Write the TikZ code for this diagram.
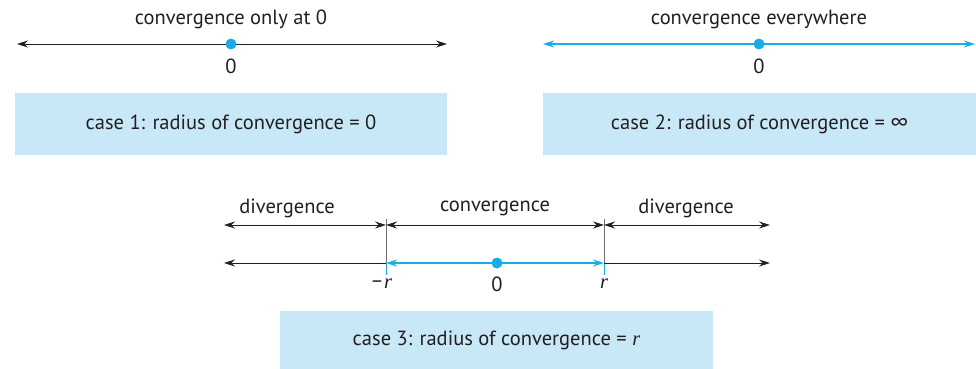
\documentclass[tikz,border=0pt]{standalone}
\usepackage{fontspec}
\setmainfont{PT Sans}
\newfontfamily\rfont{Liberation Serif}
\usetikzlibrary{arrows.meta}
\definecolor{cblue}{HTML}{1AACE6}
\definecolor{cbox}{HTML}{C8E8F8}
\definecolor{ink}{HTML}{231F20}
\definecolor{tick}{HTML}{6D6E71}
\newcommand{\rr}{{\rfont\itshape r}}
\tikzset{
  lbl/.style={font=\fontsize{20.5}{24}\selectfont, text=ink, inner sep=0pt},
  casebox/.style={fill=cbox, draw=none, inner sep=0pt, font=\fontsize{20.5}{24}\selectfont, text=ink},
  axis/.style={draw=ink, line width=0.8pt, {Stealth[length=11pt,width=7pt]}-{Stealth[length=11pt,width=7pt]}},
  bluaxis/.style={draw=cblue, line width=1.6pt, {Stealth[length=11pt,width=7pt]}-{Stealth[length=11pt,width=7pt]}},
  dot/.style={circle, fill=cblue, inner sep=0pt, minimum size=11pt},
}
\begin{document}
\begin{tikzpicture}[x=1pt,y=-1pt]
\useasboundingbox (0,0) rectangle (976,369);
% ---- case 1
\coordinate (a1) at (17,44);
\coordinate (b1) at (447,44);
\draw[axis] (a1) -- (b1);
\node[dot] (o1) at (231,44) {};
\node[lbl] (t1) at (231,19) {convergence only at 0};
\node[lbl] (z1) at (231,66) {0};
\node[casebox, minimum width=432pt, minimum height=62pt] (box1) at (231,124) {case 1: radius of convergence = 0};
% ---- case 2
\coordinate (a2) at (543,44);
\coordinate (b2) at (975,44);
\draw[bluaxis] (a2) -- (b2);
\node[dot] (o2) at (759,44) {};
\node[lbl] (t2) at (759,19) {convergence everywhere};
\node[lbl] (z2) at (759,66) {0};
\node[casebox, minimum width=433pt, minimum height=62pt] (box2) at (759.5,124) {case 2: radius of convergence = ∞};
% ---- case 3
\coordinate (L) at (224,263);
\coordinate (R) at (770,263);
\coordinate (mr) at (386,263);
\coordinate (pr) at (604,263);
\coordinate (Lt) at (224,225);
\coordinate (Rt) at (770,225);
\coordinate (mrt) at (386,225);
\coordinate (prt) at (604,225);
\coordinate (mrtop) at (386,219);
\coordinate (prtop) at (604,219);
\coordinate (mrbot) at (386,275);
\coordinate (prbot) at (604,275);
\draw[draw=tick, line width=0.8pt] (mrtop) -- (mr);
\draw[draw=tick, line width=0.8pt] (prtop) -- (pr);
\draw[draw=cblue, line width=0.8pt] (mr) -- (mrbot);
\draw[draw=cblue, line width=0.8pt] (pr) -- (prbot);
\draw[axis] (Lt) -- (mrt);
\draw[axis] (mrt) -- (prt);
\draw[axis] (prt) -- (Rt);
\draw[draw=ink, line width=0.8pt, {Stealth[length=11pt,width=7pt]}-] (L) -- (mr);
\draw[draw=ink, line width=0.8pt, -{Stealth[length=11pt,width=7pt]}] (pr) -- (R);
\draw[bluaxis] (mr) -- (pr);
\node[dot] (o3) at (497,263) {};
\node[lbl] (d1) at (287,208) {divergence};
\node[lbl] (c3) at (495,208) {convergence};
\node[lbl] (d2) at (686,208) {divergence};
\node[lbl] (mrl) at (382,284) {−\kern2pt\rr};
\node[lbl] (z3) at (497,284) {0};
\node[lbl] (prl) at (604,284) {\rr};
\node[casebox, minimum width=433pt, minimum height=58pt] (box3) at (496.5,340) {case 3: radius of convergence = \rr};
\end{tikzpicture}
\end{document}
